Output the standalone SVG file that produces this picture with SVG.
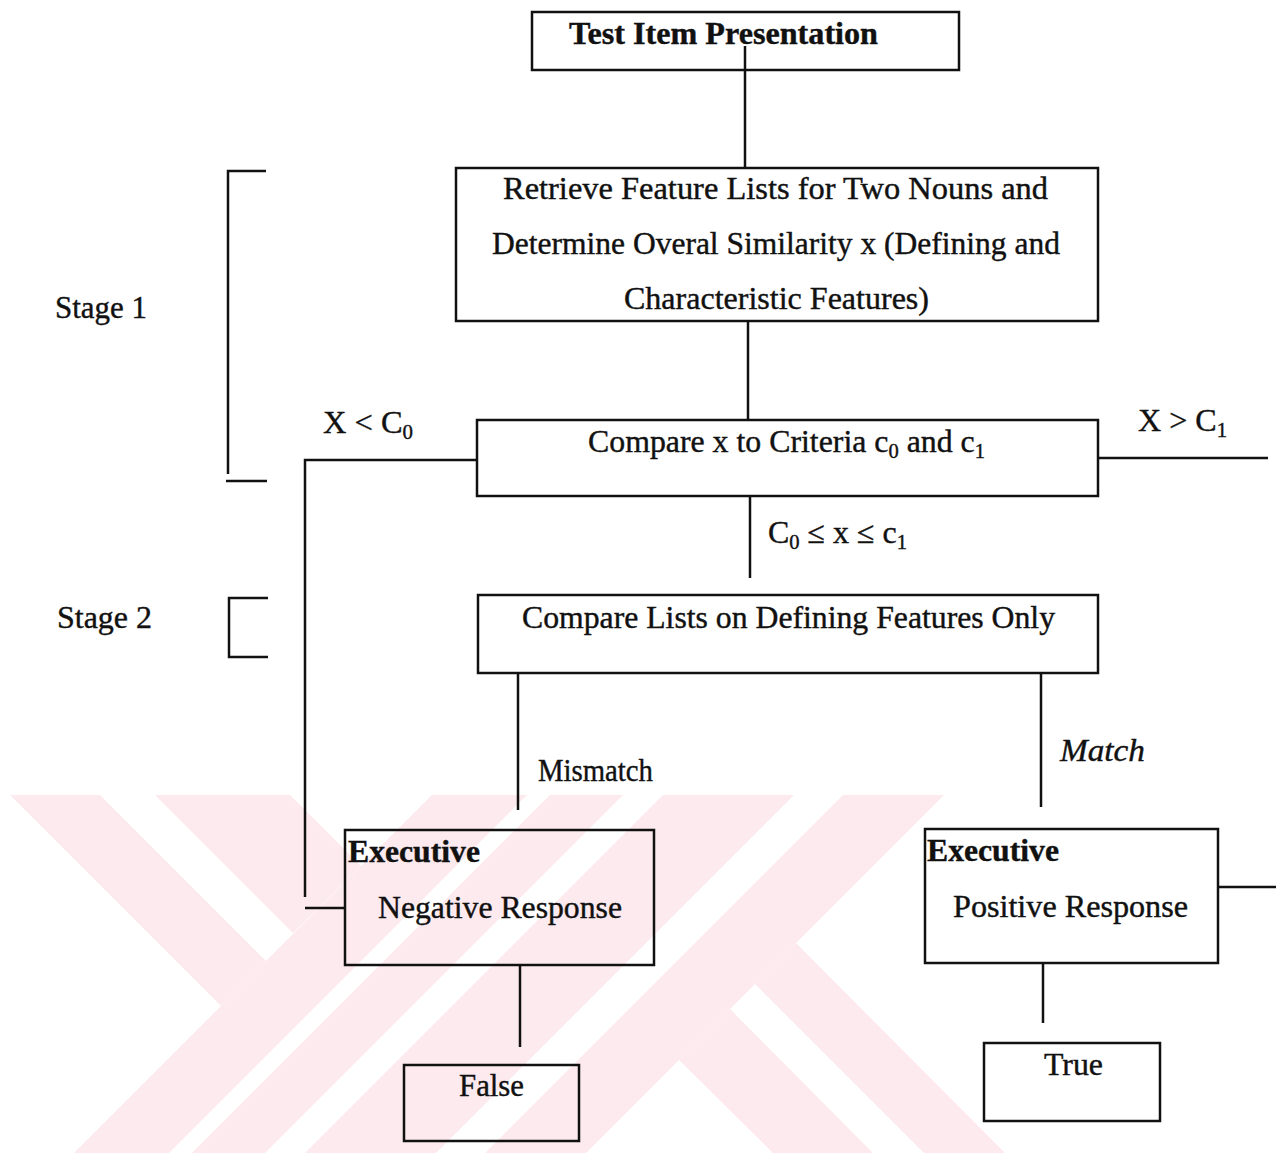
<svg xmlns="http://www.w3.org/2000/svg" width="1276" height="1153" viewBox="0 0 1276 1153">
<style>
.box{fill:none;stroke:#111;stroke-width:2.5}
.ln{fill:none;stroke:#111;stroke-width:2.5}
.t{font-family:"Liberation Serif","Times New Roman",serif;font-size:31px;fill:#111;stroke:#111;stroke-width:0.4}
.b{font-weight:bold}
.i{font-style:italic}
.wm{fill:#fdeaee}
</style>
<rect width="1276" height="1153" fill="#fff"/>
<g id="watermark">
<polygon class="wm" points="10,795 100,795 266,961 221,1006"/>
<polygon class="wm" points="155,795 290,795 361,866 293,933"/>
<polygon class="wm" points="432,795 527,795 169,1153 74,1153"/>
<polygon class="wm" points="550,795 623,795 265,1153 192,1153"/>
<polygon class="wm" points="663,795 794,795 436,1153 305,1153"/>
<polygon class="wm" points="843,795 944,795 586,1153 485,1153"/>
<polygon class="wm" points="679,1060 730,1009 873,1153 773,1153"/>
<polygon class="wm" points="755,984 796,943 1005,1153 924,1153"/>
</g>
<g id="connectors">
<line class="ln" x1="745" y1="46" x2="745" y2="168"/>
<line class="ln" x1="748" y1="321" x2="748" y2="420"/>
<polyline class="ln" points="477,460 305,460 305,897"/>
<line class="ln" x1="305" y1="908" x2="345" y2="908"/>
<line class="ln" x1="1098" y1="458" x2="1268" y2="458"/>
<line class="ln" x1="750" y1="496" x2="750" y2="578"/>
<line class="ln" x1="518" y1="673" x2="518" y2="810"/>
<line class="ln" x1="1041" y1="673" x2="1041" y2="807"/>
<line class="ln" x1="520" y1="965" x2="520" y2="1047"/>
<line class="ln" x1="1043" y1="963" x2="1043" y2="1023"/>
<line class="ln" x1="1218" y1="887" x2="1276" y2="887"/>
<polyline class="ln" points="266,171 228,171 228,474"/>
<line class="ln" x1="226" y1="481" x2="267" y2="481"/>
<polyline class="ln" points="268,598 229,598 229,657 268,657"/>
</g>
<g id="stage1"><text class="t" x="55" y="318" textLength="92" lengthAdjust="spacingAndGlyphs">Stage 1</text></g>
<g id="stage2"><text class="t" x="57" y="628" textLength="95" lengthAdjust="spacingAndGlyphs">Stage 2</text></g>
<g id="test-item">
<rect class="box" x="532" y="12" width="427" height="58"/>
<text class="t b" x="569" y="44" textLength="309" lengthAdjust="spacingAndGlyphs">Test Item Presentation</text>
</g>
<g id="retrieve">
<rect class="box" x="456" y="168" width="642" height="153"/>
<text class="t" x="503" y="199" textLength="545" lengthAdjust="spacingAndGlyphs">Retrieve Feature Lists for Two Nouns and</text>
<text class="t" x="492" y="254" textLength="568" lengthAdjust="spacingAndGlyphs">Determine Overal Similarity x (Defining and</text>
<text class="t" x="624" y="309" textLength="305" lengthAdjust="spacingAndGlyphs">Characteristic Features)</text>
</g>
<g id="compare-x">
<rect class="box" x="477" y="420" width="621" height="76"/>
<text class="t" x="588" y="452" textLength="397" lengthAdjust="spacingAndGlyphs">Compare x to Criteria c<tspan font-size="20" dy="6">0</tspan><tspan dy="-6"> and c</tspan><tspan font-size="20" dy="6">1</tspan></text>
</g>
<g id="label-lt"><text class="t" x="323" y="433" textLength="90" lengthAdjust="spacingAndGlyphs">X &lt; C<tspan font-size="20" dy="6">0</tspan></text></g>
<g id="label-gt"><text class="t" x="1138" y="431" textLength="89" lengthAdjust="spacingAndGlyphs">X &gt; C<tspan font-size="20" dy="6">1</tspan></text></g>
<g id="label-between"><text class="t" x="768" y="543" textLength="139" lengthAdjust="spacingAndGlyphs">C<tspan font-size="20" dy="6">0</tspan><tspan dy="-6"> ≤ x ≤ c</tspan><tspan font-size="20" dy="6">1</tspan></text></g>
<g id="compare-lists">
<rect class="box" x="478" y="595" width="620" height="78"/>
<text class="t" x="522" y="628" textLength="533" lengthAdjust="spacingAndGlyphs">Compare Lists on Defining Features Only</text>
</g>
<g id="label-mismatch"><text class="t" x="538" y="781" textLength="115" lengthAdjust="spacingAndGlyphs">Mismatch</text></g>
<g id="label-match"><text class="t i" x="1060" y="761" textLength="85" lengthAdjust="spacingAndGlyphs">Match</text></g>
<g id="negative">
<rect class="box" x="345" y="830" width="309" height="135"/>
<text class="t b" x="348" y="862" textLength="132" lengthAdjust="spacingAndGlyphs">Executive</text>
<text class="t" x="378" y="918" textLength="244" lengthAdjust="spacingAndGlyphs">Negative Response</text>
</g>
<g id="positive">
<rect class="box" x="925" y="829" width="293" height="134"/>
<text class="t b" x="927" y="861" textLength="132" lengthAdjust="spacingAndGlyphs">Executive</text>
<text class="t" x="953" y="917" textLength="235" lengthAdjust="spacingAndGlyphs">Positive Response</text>
</g>
<g id="false">
<rect class="box" x="404" y="1065" width="175" height="76"/>
<text class="t" x="459" y="1096" textLength="65" lengthAdjust="spacingAndGlyphs">False</text>
</g>
<g id="true">
<rect class="box" x="984" y="1043" width="176" height="78"/>
<text class="t" x="1044" y="1075" textLength="59" lengthAdjust="spacingAndGlyphs">True</text>
</g>
</svg>
